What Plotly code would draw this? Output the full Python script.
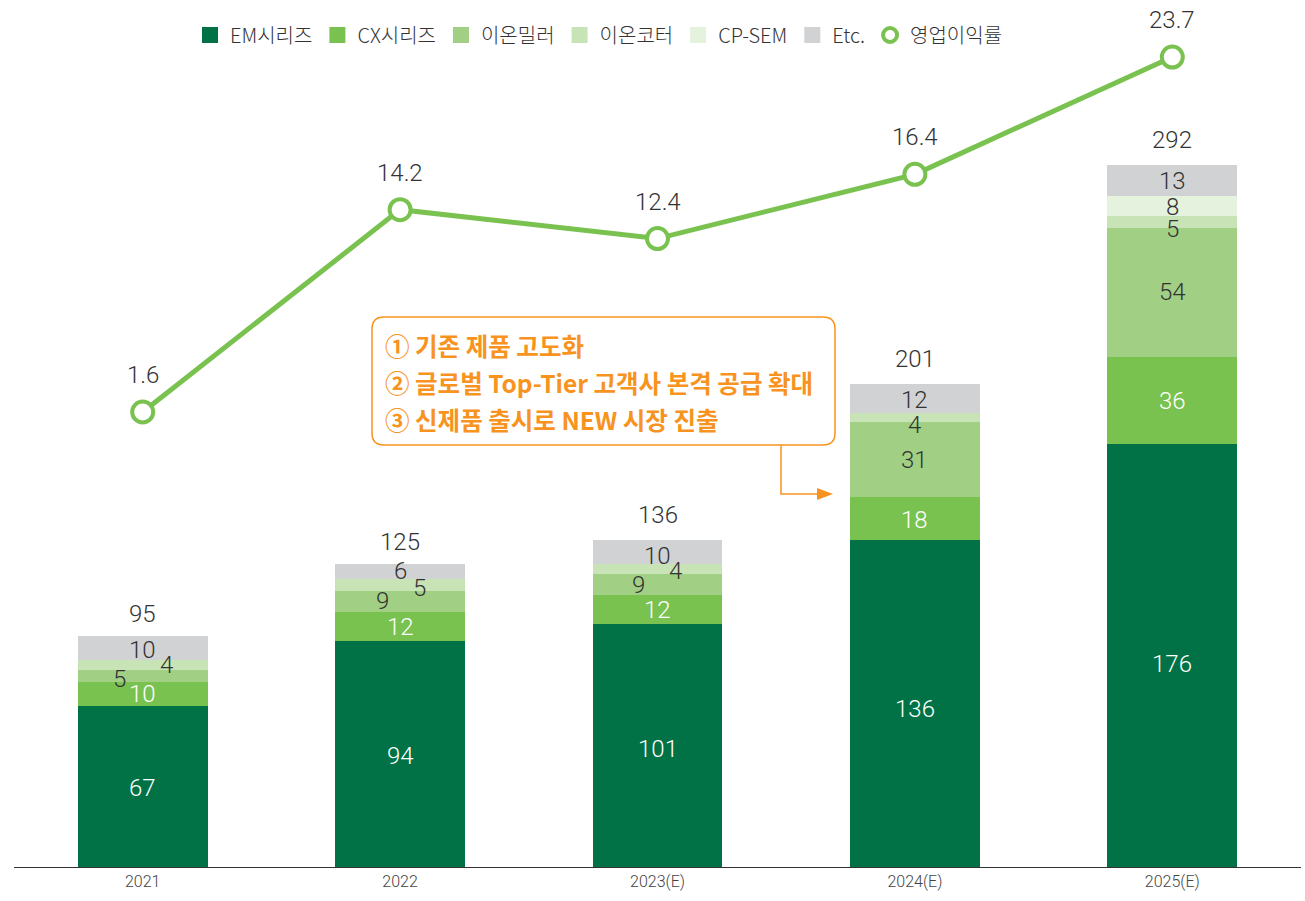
import plotly.graph_objects as go

# ---- data -------------------------------------------------------------
years = ["2021", "2022", "2023(E)", "2024(E)", "2025(E)"]
series_names = ["EM시리즈", "CX시리즈", "이온밀러", "이온코터", "CP-SEM", "Etc."]
em = [67, 94, 101, 136, 176]
cx = [10, 12, 12, 18, 36]
ion_miller = [5, 9, 9, 31, 54]
ion_coater = [4, 5, 4, 4, 5]
cp_sem = [0, 0, 0, 0, 8]
etc = [10, 6, 10, 12, 13]
totals = [95, 125, 136, 201, 292]
margin_rate = [1.6, 14.2, 12.4, 16.4, 23.7]
margin_name = "영업이익률"
callout_lines = [
    "① 기존 제품 고도화",
    "② 글로벌 Top-Tier 고객사 본격 공급 확대",
    "③ 신제품 출시로 NEW 시장 진출",
]

# ---- styling ----------------------------------------------------------
colors = ["#007245", "#7ac250", "#a1d085", "#c8e3b5", "#e5f2dd", "#d1d2d4"]
label_colors = ["white", "white", "#333333", "#333333", "#333333", "#333333"]
line_color = "#7ac250"
orange = "#f7931e"
num_font = "Roboto, 'Noto Sans CJK KR', sans-serif"
kr_font = "'Noto Sans CJK KR', Roboto, sans-serif"

W, H = 1305, 901
M_L, M_R, M_T, M_B = 14, 4, 20, 34
PW = W - M_L - M_R
PH = H - M_T - M_B


def px_x(p):
    return (p - M_L) / PW


def px_y(p):
    return (H - M_B - p) / PH


xs = list(range(len(years)))
stack = [em, cx, ion_miller, ion_coater, cp_sem, etc]

fig = go.Figure()

for name, vals, col in zip(series_names, stack, colors):
    fig.add_trace(go.Bar(
        x=xs, y=vals, name=name, marker=dict(color=col, line=dict(width=0)),
        showlegend=False, hoverinfo="skip",
    ))

fig.add_trace(go.Scatter(
    x=xs, y=margin_rate, yaxis="y2", mode="lines+markers", name=margin_name,
    line=dict(color=line_color, width=5),
    marker=dict(symbol="circle", size=21, color="white",
                line=dict(color=line_color, width=4)),
    showlegend=False, hoverinfo="skip", cliponaxis=False,
))

# legend entries
for name, col in zip(series_names, colors):
    fig.add_trace(go.Scatter(
        x=[None], y=[None], mode="markers", name=name,
        marker=dict(symbol="square", size=17, color=col),
    ))
fig.add_trace(go.Scatter(
    x=[None], y=[None], mode="markers", name=margin_name,
    marker=dict(symbol="circle", size=14, color="white",
                line=dict(color=line_color, width=4)),
))

# segment value labels (small segments nudged sideways to avoid overlap)
nudges = {
    (0, 0): (0, -2), (0, 1): (0, -2), (0, 2): (0, -3), (0, 3): (0, -5), (0, 4): (0, -9),
    (2, 0): (-23, -3), (3, 0): (24, 0), (4, 0): (0, 0), (5, 0): (0, -2),
    (2, 1): (-18, 0), (3, 1): (19, -3), (5, 1): (0, 0),
    (2, 2): (-19, 0), (3, 2): (18, -2), (5, 2): (0, -4),
    (1, 3): (0, -2), (3, 3): (0, -8), (5, 3): (0, -2),
    (3, 4): (0, -7), (4, 4): (0, -1), (5, 4): (0, 0),
}
annotations = []
for xi in xs:
    base = 0
    for si, vals in enumerate(stack):
        v = vals[xi]
        if v > 0:
            dx, dy = nudges.get((si, xi), (0, 0))
            annotations.append(dict(
                x=xi, y=base + v / 2, xref="x", yref="y", text=str(v),
                showarrow=False, xshift=dx, yshift=dy,
                font=dict(family=num_font, size=24, color=label_colors[si], weight=300),
            ))
        base += v
    annotations.append(dict(
        x=xi, y=totals[xi], xref="x", yref="y", text=str(totals[xi]),
        showarrow=False, yshift=25,
        font=dict(family=num_font, size=24, color="#333333", weight=300),
    ))
    annotations.append(dict(
        x=xi, y=margin_rate[xi], xref="x", yref="y2", text=f"{margin_rate[xi]:.1f}",
        showarrow=False, yshift=37,
        font=dict(family=num_font, size=24, color="#333333", weight=300),
    ))

# callout text
for i, line in enumerate(callout_lines):
    annotations.append(dict(
        x=px_x(383), y=px_y(345 + i * 37.5), xref="paper", yref="paper",
        xanchor="left", yanchor="middle", text=f"<b>{line}</b>", showarrow=False,
        font=dict(family=kr_font, size=24.5, color=orange),
    ))

# rounded callout box + elbow arrow
x0, x1, y0, y1, r = px_x(372), px_x(835), px_y(317), px_y(445), 12
rx, ry = r / PW, r / PH
box_path = (
    f"M {x0 + rx},{y0} L {x1 - rx},{y0} Q {x1},{y0} {x1},{y0 - ry} "
    f"L {x1},{y1 + ry} Q {x1},{y1} {x1 - rx},{y1} L {x0 + rx},{y1} "
    f"Q {x0},{y1} {x0},{y1 + ry} L {x0},{y0 - ry} Q {x0},{y0} {x0 + rx},{y0} Z"
)
shapes = [
    dict(type="path", path=box_path, xref="paper", yref="paper",
         line=dict(color=orange, width=1.5), fillcolor="rgba(255,255,255,0)"),
    dict(type="path", xref="paper", yref="paper",
         path=f"M {px_x(781)},{px_y(445)} L {px_x(781)},{px_y(494)} L {px_x(820)},{px_y(494)}",
         line=dict(color=orange, width=1.5)),
    dict(type="path", xref="paper", yref="paper",
         path=f"M {px_x(817)},{px_y(488)} L {px_x(833)},{px_y(494)} L {px_x(817)},{px_y(500)} Z",
         line=dict(color=orange, width=0), fillcolor=orange),
]

fig.update_layout(
    width=W, height=H,
    margin=dict(l=M_L, r=M_R, t=M_T, b=M_B),
    barmode="stack", bargap=0.495,
    plot_bgcolor="white", paper_bgcolor="white",
    font=dict(family=num_font, color="#333333"),
    xaxis=dict(
        range=[-0.5, len(years) - 0.5], tickmode="array", tickvals=xs, ticktext=years,
        showline=True, linecolor="#333333", linewidth=1,
        showgrid=False, zeroline=False, ticks="",
        tickfont=dict(family=num_font, size=16, color="#444444", weight=300),
    ),
    yaxis=dict(range=[0, PH / 2.404], visible=False, showgrid=False, zeroline=False),
    yaxis2=dict(range=[-429.3 / 16.06, (PH - 429.3) / 16.06], overlaying="y",
                visible=False, showgrid=False, zeroline=False),
    legend=dict(
        orientation="h", x=px_x(190), y=px_y(35), xanchor="left", yanchor="middle",
        font=dict(family=kr_font, size=20, color="#333333", weight=300),
        itemsizing="trace", bgcolor="rgba(0,0,0,0)", itemwidth=30, traceorder="normal",
    ),
    annotations=annotations,
    shapes=shapes,
)

fig.write_html("out.html")
